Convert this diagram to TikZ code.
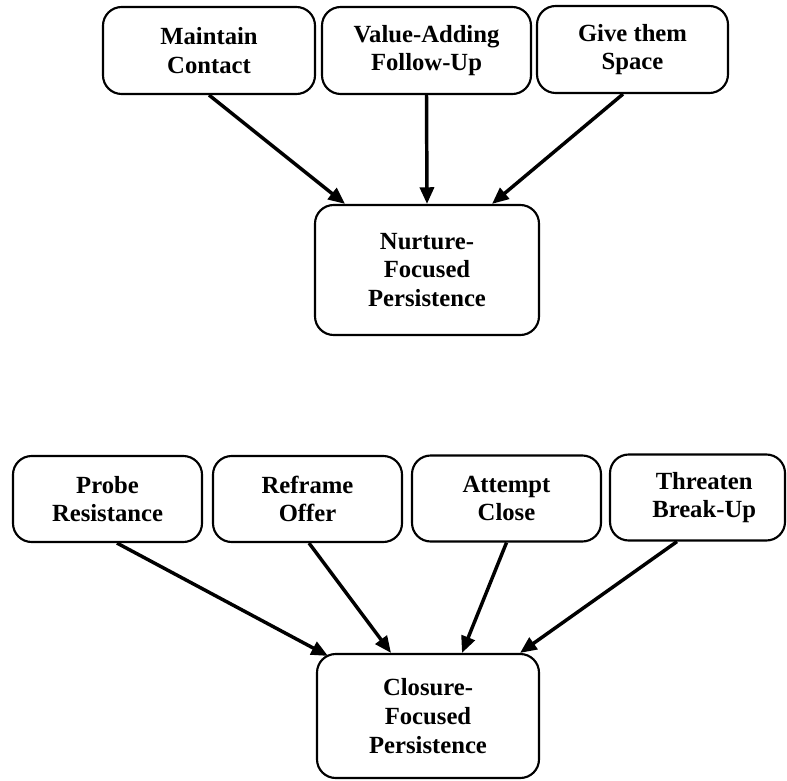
\documentclass[tikz,border=0pt]{standalone}
\usepackage{fontspec}
\setmainfont{Liberation Serif}
\usetikzlibrary{arrows.meta,calc}
\begin{document}
\begin{tikzpicture}[x=0.75pt,y=-0.75pt,
  box/.style={draw,line width=1.6pt,rounded corners=14pt,align=center,inner sep=0pt,
    font=\fontsize{18.5pt}{21.5pt}\selectfont\bfseries},
  conn/.style={line width=2.6pt,-{Triangle[length=12.5pt,width=10.5pt]}}]
\useasboundingbox (0,0) rectangle (787,780);
% top group
\node[box,minimum width=212*0.75pt,minimum height=87*0.75pt] (mc) at (209,50.5) {Maintain\\Contact};
\node[box,minimum width=209*0.75pt,minimum height=87*0.75pt] (va) at (426.5,50.5) {Value-Adding\\Follow-Up};
\node[box,minimum width=191*0.75pt,minimum height=87*0.75pt] (gs) at (632.5,49.5) {Give them\\Space};
\node[box,minimum width=224*0.75pt,minimum height=130*0.75pt] (nfp) at (427,270) {Nurture-\\Focused\\Persistence};
\draw[conn] (mc.south) -- ($(nfp.north)+(-82,0)$);
\draw[conn] (va.south) -- (nfp.north);
\draw[conn] ($(gs.south)+(-9.5,0)$) -- ($(nfp.north)+(65,0)$);
% bottom group
\node[box,minimum width=189*0.75pt,minimum height=86*0.75pt] (pr) at (107.5,499) {Probe\\Resistance};
\node[box,minimum width=189*0.75pt,minimum height=86*0.75pt] (ro) at (307.5,499) {Reframe\\Offer};
\node[box,minimum width=189*0.75pt,minimum height=86*0.75pt] (ac) at (506.5,498.5) {Attempt\\Close};
\node[box,minimum width=175*0.75pt,minimum height=86*0.75pt] (tb) at (697.5,497.5) {\hspace*{10pt}Threaten\\\hspace*{10pt}Break-Up};
\node[box,minimum width=222*0.75pt,minimum height=124*0.75pt] (cfp) at (428,716) {Closure-\\Focused\\Persistence};
\draw[conn] ($(pr.south)+(9.5,0)$) -- ($(cfp.north)+(-100,3)$);
\draw[conn] ($(ro.south)+(1.5,0)$) -- ($(cfp.north)+(-37,0)$);
\draw[conn] (ac.south) -- ($(cfp.north)+(34,0)$);
\draw[conn] ($(tb.south)+(-20.5,0)$) -- ($(cfp.north)+(92,0)$);
\end{tikzpicture}
\end{document}
